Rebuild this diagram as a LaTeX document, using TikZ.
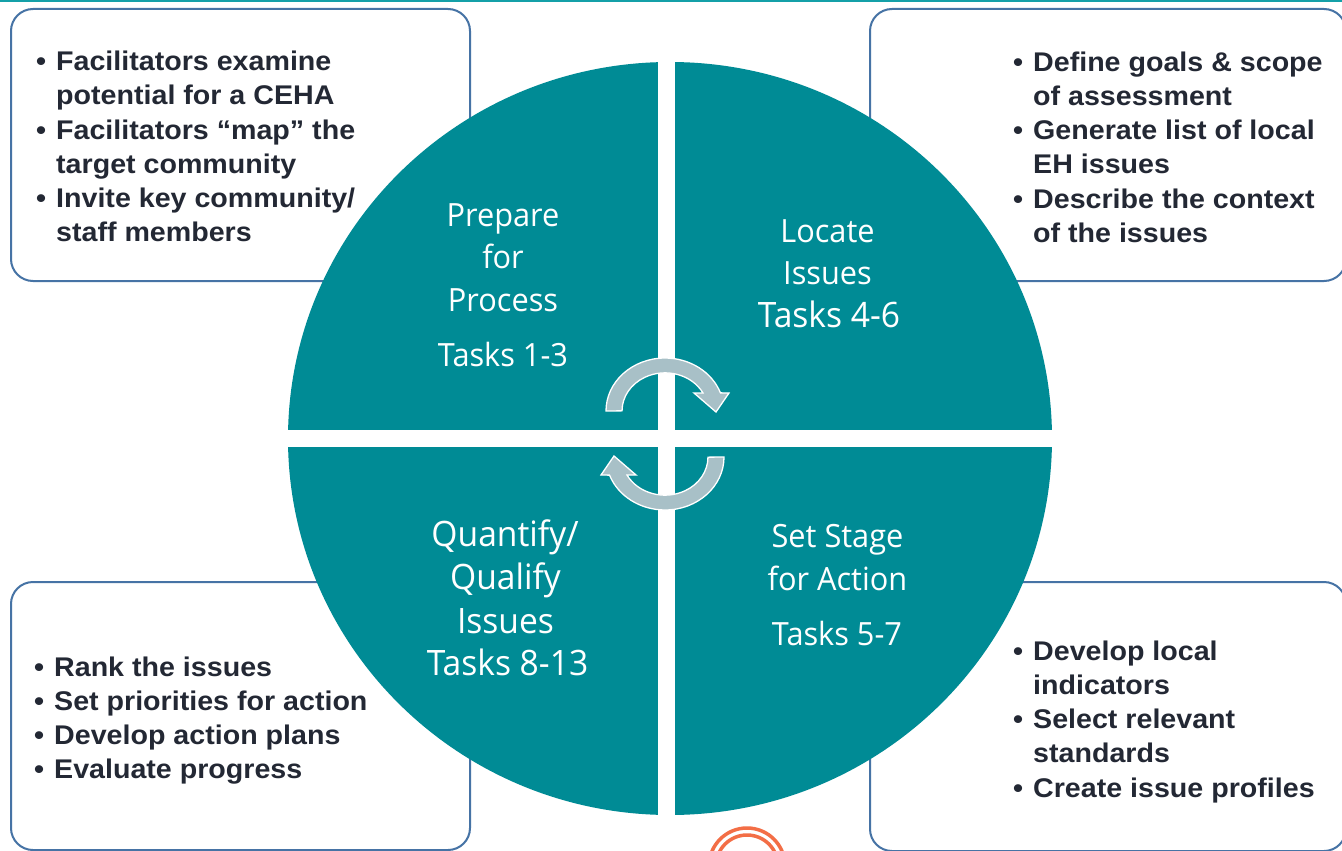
\documentclass[tikz,border=0pt]{standalone}
\usepackage{fontspec}
\setmainfont{Liberation Sans}
\newfontfamily\boxfont[FakeStretch=1.06]{Liberation Sans}
\newfontfamily\circfont[FakeStretch=0.96]{Open Sans}
\definecolor{teal1}{RGB}{0,139,149}
\definecolor{topline}{RGB}{20,160,168}
\definecolor{boxblue}{RGB}{70,115,165}
\definecolor{txt}{RGB}{35,40,52}
\definecolor{arrowfill}{RGB}{168,192,199}
\definecolor{ringcol}{RGB}{243,110,70}
\newcommand\bl{\makebox[20pt][l]{•}}
\newcommand\nb{\makebox[20pt][l]{}}
\tikzset{
  infobox/.style={draw=boxblue, line width=2pt, fill=white, rounded corners=22pt},
  boxtext/.style={anchor=base west, inner sep=0pt, text=txt, font=\boxfont\bfseries\fontsize{27}{34.3}\selectfont},
  ctext/.style={anchor=base, inner sep=0pt, text=white, font=\circfont\fontsize{32}{32}\selectfont},
  ctextbig/.style={anchor=base, inner sep=0pt, text=white, font=\circfont\fontsize{35}{35}\selectfont},
  cyclearrow/.style={fill=arrowfill, draw=white, line width=1.3pt, line join=miter},
  orangering/.style={draw=ringcol, line width=3.5pt},
}
\begin{document}
\begin{tikzpicture}[x=1pt, y=-1pt]
\useasboundingbox (0,0) rectangle (1342,851);
\clip (0,0) rectangle (1342,851);
\fill[white] (0,0) rectangle (1342,851);
% boxes
\draw[infobox] (11,9) rectangle (470,281);
\draw[infobox] (870,9) rectangle (1346,281);
\draw[infobox] (11,582) rectangle (470,850);
\draw[infobox] (870,582) rectangle (1346,851);
% circle
\fill[teal1] (670,438.5) ellipse [x radius=382, y radius=376.5];
\begin{scope}
  \clip (670,438.5) ellipse [x radius=383, y radius=377.5];
  \fill[white] (658,0) rectangle (675,851);
  \fill[white] (0,430) rectangle (1342,447);
\end{scope}
% box texts
\node[boxtext] (tl) at (36,70.5) {\begin{tabular}[t]{@{}l@{}}
\bl Facilitators examine\\ \nb potential for a CEHA\\ \bl Facilitators “map” the\\ \nb target community\\ \bl Invite key community/\\ \nb staff members\end{tabular}};
\node[boxtext] (tr) at (1013,71) {\begin{tabular}[t]{@{}l@{}}
\bl Define goals \& scope\\ \nb of assessment\\ \bl Generate list of local\\ \nb EH issues\\ \bl Describe the context\\ \nb of the issues\end{tabular}};
\node[boxtext] (bl) at (34,676) {\begin{tabular}[t]{@{}l@{}}
\bl Rank the issues\\ \bl Set priorities for action\\ \bl Develop action plans\\ \bl Evaluate progress\end{tabular}};
\node[boxtext] (br) at (1013,660) {\begin{tabular}[t]{@{}l@{}}
\bl Develop local\\ \nb indicators\\ \bl Select relevant\\ \nb standards\\ \bl Create issue profiles\end{tabular}};
% circle texts
\node[ctext] (p1) at (503,226) {Prepare};
\node[ctext] (p2) at (503,268) {for};
\node[ctext] (p3) at (503,311) {Process};
\node[ctext] (p4) at (503,366) {Tasks 1-3};
\node[ctext] (l1) at (827.5,242) {Locate};
\node[ctext] (l2) at (827.5,284) {Issues};
\node[ctextbig] (l3) at (829,327) {Tasks 4-6};
\node[ctextbig] (q1) at (505,546) {Quantify/};
\node[ctextbig] (q2) at (505.5,589) {Qualify};
\node[ctextbig] (q3) at (505.5,633) {Issues};
\node[ctextbig] (q4) at (507.5,675) {Tasks 8-13};
\node[ctext] (s1) at (837.5,547) {Set Stage};
\node[ctext] (s2) at (837.5,590) {for Action};
\node[ctext] (s3) at (837,645) {Tasks 5-7};
% cycle arrows
\path[cyclearrow] (606,411) arc[start angle=180, end angle=340, x radius=59, y radius=53]
  -- (729,393) -- (716,412) -- (694,393) -- (703,393)
  arc[start angle=332, end angle=180, x radius=43, y radius=38] -- cycle;
\path[cyclearrow, rotate around={180:(665,434)}] (606,411) arc[start angle=180, end angle=340, x radius=59, y radius=53]
  -- (729,393) -- (716,412) -- (694,393) -- (703,393)
  arc[start angle=332, end angle=180, x radius=43, y radius=38] -- cycle;
% orange rings
\draw[orangering] (747,866) circle [radius=38];
\draw[orangering] (747,866) circle [radius=31];
% top line
\fill[topline] (0,0) rectangle (1342,2.5);
\end{tikzpicture}
\end{document}
